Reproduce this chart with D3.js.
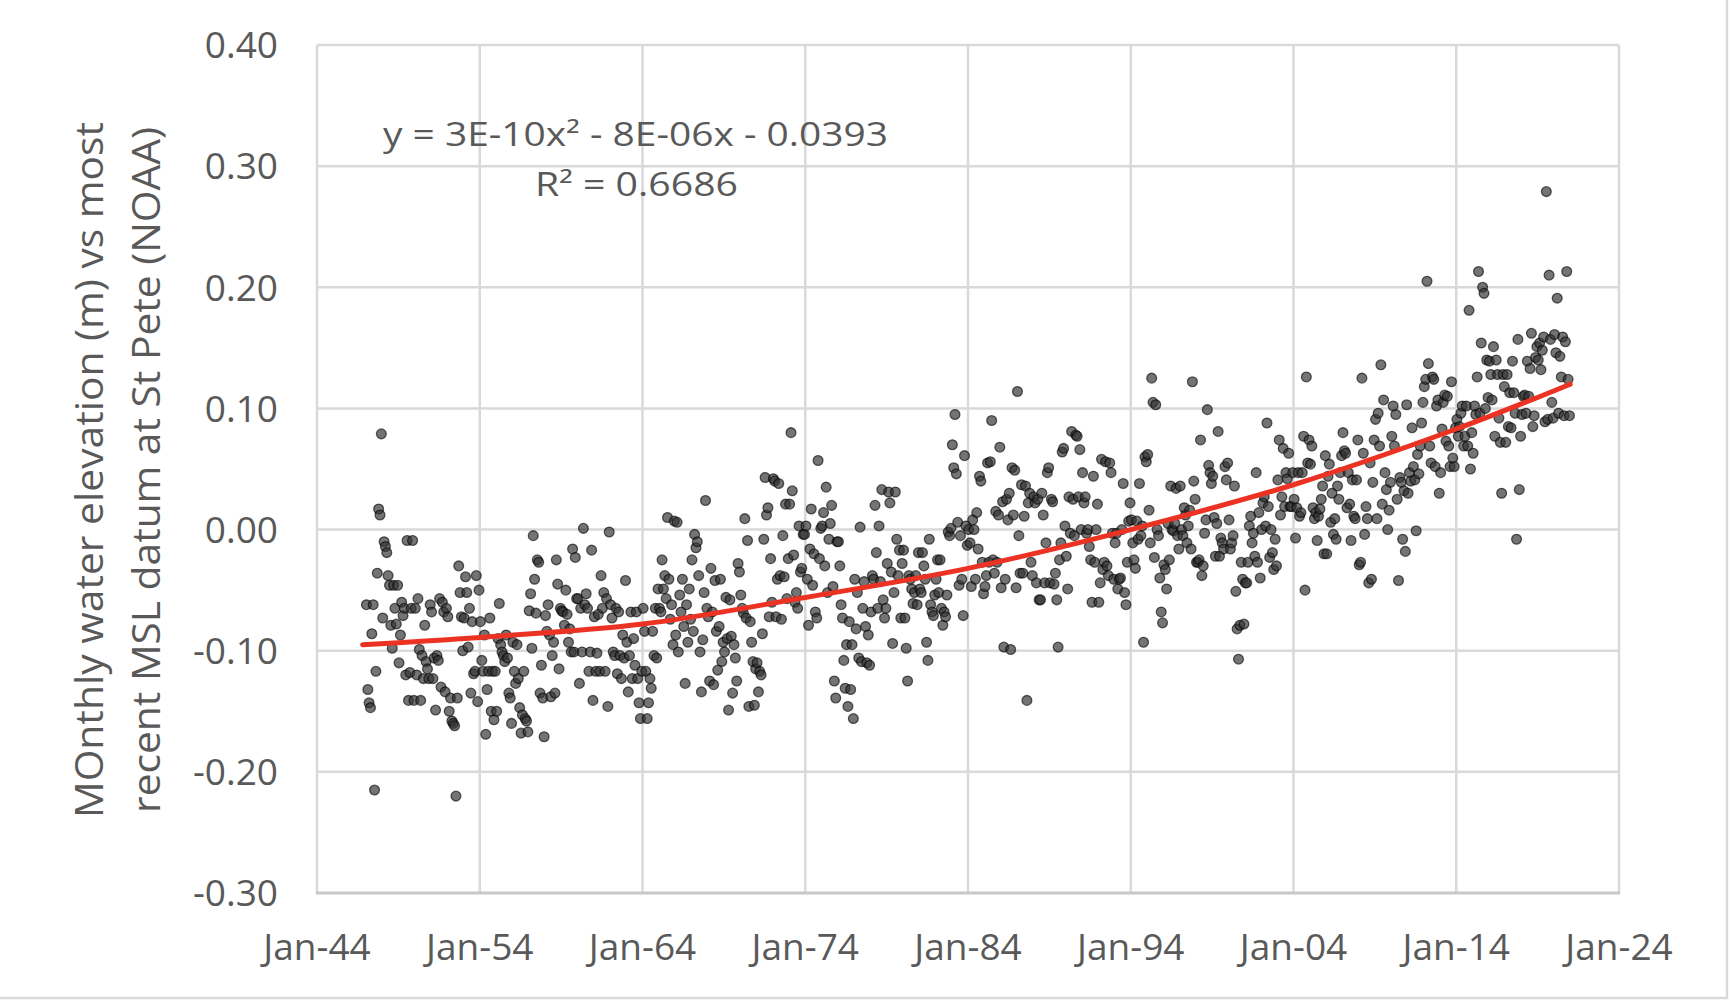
<!DOCTYPE html>
<html><head><meta charset="utf-8">
<script src="https://cdn.jsdelivr.net/npm/d3@7"></script>
<style>html,body{margin:0;padding:0;background:#fff;}svg{display:block;}</style>
</head><body>
<script>
// ---- tick labels ----
const tickYears = [1944,1954,1964,1974,1984,1994,2004,2014,2024];
const yTicks = [0.40,0.30,0.20,0.10,0.00,-0.10,-0.20,-0.30];
const yTitle = ["MOnthly water elevation (m) vs most","recent MSL datum at St Pete (NOAA)"];
const equationText = "y = 3E-10x\u00B2 - 8E-06x - 0.0393";
const r2Text = "R\u00B2 = 0.6686";

// ---- monthly observations (m), rows: [year, Jan..Dec] ----
const obs1940s = [
[1947,-0.062,-0.132,-0.143,-0.147,-0.086,-0.062,-0.215,-0.117,-0.036,0.017,0.012,0.079],
[1948,-0.073,-0.010,-0.014,-0.019,-0.038,-0.046,-0.079,-0.098,-0.046,-0.065,-0.078,-0.046],
[1949,-0.110,-0.087,-0.060,-0.071,-0.065,-0.120,-0.009,-0.141,-0.118,-0.065,-0.009,-0.141]];
const obs1950s = [
[1950,-0.065,-0.120,-0.057,-0.099,-0.141,-0.104,-0.123,-0.079,-0.109,-0.115,-0.123,-0.062],
[1951,-0.068,-0.123,-0.106,-0.149,-0.104,-0.108,-0.057,-0.130,-0.060,-0.068,-0.134,-0.065],
[1952,-0.072,-0.150,-0.139,-0.158,-0.160,-0.162,-0.220,-0.139,-0.030,-0.052,-0.072,-0.100],
[1953,-0.073,-0.039,-0.052,-0.097,-0.065,-0.135,-0.076,-0.119,-0.117,-0.038,-0.142,-0.050],
[1954,-0.076,-0.108,-0.117,-0.087,-0.169,-0.132,-0.117,-0.073,-0.150,-0.117,-0.157,-0.117],
[1955,-0.150,-0.090,-0.061,-0.095,-0.101,-0.104,-0.109,-0.087,-0.106,-0.135,-0.139,-0.160],
[1956,-0.093,-0.117,-0.127,-0.095,-0.123,-0.147,-0.168,-0.153,-0.117,-0.156,-0.158,-0.167],
[1957,-0.067,-0.053,-0.098,-0.005,-0.041,-0.069,-0.025,-0.027,-0.135,-0.112,-0.139,-0.171],
[1958,-0.071,-0.084,-0.062,-0.087,-0.138,-0.104,-0.093,-0.135,-0.025,-0.045,-0.115,-0.065],
[1959,-0.067,-0.068,-0.079,-0.050,-0.070,-0.093,-0.082,-0.101,-0.016,-0.101,-0.023,-0.057]];
const obs1960s = [
[1960,-0.057,-0.127,-0.065,-0.101,0.001,-0.062,-0.053,-0.065,-0.117,-0.101,-0.017,-0.141],
[1961,-0.072,-0.117,-0.102,-0.070,-0.117,-0.038,-0.065,-0.052,-0.117,-0.057,-0.146,-0.002],
[1962,-0.062,-0.073,-0.101,-0.104,-0.065,-0.119,-0.068,-0.104,-0.123,-0.087,-0.106,-0.042],
[1963,-0.093,-0.134,-0.104,-0.068,-0.123,-0.090,-0.112,-0.068,-0.123,-0.143,-0.156,-0.117],
[1964,-0.065,-0.084,-0.117,-0.156,-0.143,-0.123,-0.131,-0.084,-0.104,-0.065,-0.106,-0.049],
[1965,-0.065,-0.068,-0.025,-0.049,-0.038,-0.057,0.010,-0.041,-0.074,-0.062,-0.095,0.007],
[1966,-0.087,0.006,-0.101,-0.054,-0.068,-0.041,-0.080,-0.127,-0.062,-0.093,-0.049,-0.074],
[1967,-0.025,-0.084,-0.004,-0.015,-0.010,-0.038,-0.101,-0.134,-0.091,-0.052,0.024,-0.065],
[1968,-0.072,-0.125,-0.032,-0.068,-0.128,-0.042,-0.084,-0.116,-0.080,-0.041,-0.109,-0.093],
[1969,-0.101,-0.056,-0.090,-0.149,-0.058,-0.088,-0.135,-0.095,-0.106,-0.125,-0.028,-0.035]];
const obs1970s = [
[1970,-0.054,-0.065,-0.069,0.009,-0.073,-0.009,-0.146,-0.076,-0.093,-0.109,-0.145,-0.115],
[1971,-0.110,-0.134,-0.117,-0.120,-0.086,-0.008,0.043,0.012,0.018,-0.072,-0.024,-0.060],
[1972,0.042,0.040,-0.072,-0.041,0.038,-0.038,-0.074,-0.005,-0.039,0.021,-0.057,-0.024],
[1973,0.021,0.080,0.032,-0.021,-0.060,-0.052,-0.065,0.003,-0.035,-0.032,-0.004,-0.004],
[1974,0.003,-0.041,-0.079,-0.016,0.017,-0.046,-0.020,-0.068,-0.073,0.057,-0.024,0.001],
[1975,0.003,0.014,-0.030,0.035,-0.052,-0.008,0.005,0.020,-0.047,-0.125,-0.139,-0.010],
[1976,-0.010,-0.030,-0.062,-0.073,-0.108,-0.131,-0.095,-0.146,-0.076,-0.132,-0.095,-0.156],
[1977,-0.041,-0.082,-0.052,-0.106,0.002,-0.109,-0.065,-0.043,-0.080,-0.110,-0.087,-0.112],
[1978,-0.068,-0.038,-0.041,0.020,-0.019,-0.065,0.003,-0.043,0.033,-0.058,-0.073,-0.065],
[1979,-0.028,0.031,0.022,-0.035,-0.094,-0.052,0.031,-0.008,-0.038,-0.017,-0.073,-0.028]];
const obs1980s = [
[1980,-0.017,-0.073,-0.098,-0.125,-0.038,-0.041,-0.049,-0.061,-0.052,-0.038,-0.062,-0.019],
[1981,-0.049,-0.052,-0.019,-0.030,-0.041,-0.093,-0.108,-0.008,-0.062,-0.068,-0.071,-0.054],
[1982,-0.041,-0.025,-0.052,-0.025,-0.065,-0.079,-0.068,-0.072,-0.054,-0.002,-0.005,0.001],
[1983,0.070,0.051,0.095,0.046,0.006,-0.046,-0.005,-0.041,-0.071,0.061,0.003,-0.013],
[1984,0.000,-0.011,-0.047,0.008,0.000,-0.041,0.014,-0.016,0.044,0.040,-0.027,-0.053],
[1985,-0.047,-0.038,0.055,-0.027,0.056,0.090,-0.025,-0.036,0.015,-0.027,0.012,0.068],
[1986,-0.048,0.023,-0.097,-0.041,0.025,0.008,0.030,-0.099,0.051,0.012,0.049,-0.048],
[1987,0.114,-0.005,-0.036,0.037,-0.036,0.011,0.036,-0.141,0.022,0.030,-0.027,-0.038],
[1988,0.027,0.022,-0.044,0.025,-0.058,-0.058,0.030,0.012,-0.044,-0.011,0.047,0.051],
[1989,-0.044,0.025,0.023,-0.045,-0.036,-0.058,-0.097,-0.025,-0.011,0.064,0.067,0.003]];
const obs1990s = [
[1990,-0.022,-0.049,0.027,-0.003,0.081,0.025,-0.005,0.078,0.077,0.027,0.066,0.000],
[1991,0.047,0.022,0.027,-0.003,0.000,-0.014,-0.025,-0.060,0.044,-0.027,0.000,0.021],
[1992,-0.060,-0.044,0.058,-0.033,-0.027,0.056,-0.030,-0.038,0.055,0.047,-0.003,-0.041],
[1993,-0.011,-0.003,-0.049,-0.041,-0.040,0.000,0.038,-0.052,-0.062,-0.027,0.007,0.022],
[1994,0.008,-0.011,-0.025,-0.032,0.007,-0.008,0.038,-0.005,0.003,-0.093,0.060,0.056],
[1995,0.062,0.016,-0.011,0.125,0.105,-0.023,0.103,0.000,-0.005,-0.040,-0.068,-0.077],
[1996,-0.029,-0.033,-0.049,0.005,-0.025,0.036,0.000,-0.001,0.005,0.034,-0.005,-0.016],
[1997,0.036,0.000,-0.005,0.018,0.012,-0.011,0.003,0.016,-0.016,0.122,0.040,0.025],
[1998,-0.027,-0.027,-0.025,0.074,-0.038,-0.030,-0.003,0.008,0.099,0.053,0.047,0.038],
[1999,0.044,0.010,-0.022,0.005,0.081,-0.022,-0.007,-0.011,-0.016,0.052,0.041,0.055]];
const obs2000s = [
[2000,0.008,-0.016,-0.011,-0.005,0.036,-0.051,-0.082,-0.107,-0.079,-0.027,-0.041,-0.078],
[2001,-0.044,-0.044,-0.027,0.003,0.011,-0.011,-0.003,-0.022,0.047,-0.027,0.014,-0.040],
[2002,0.000,0.022,0.027,0.003,0.088,0.019,-0.023,0.000,-0.019,-0.033,-0.008,-0.030],
[2003,0.041,0.074,0.012,0.027,0.067,0.019,0.047,0.042,0.063,0.019,0.019,0.047],
[2004,0.025,-0.007,0.018,0.047,0.011,0.014,0.047,0.077,-0.050,0.126,0.055,0.074],
[2005,0.054,0.069,0.018,0.009,0.014,-0.009,0.011,0.017,0.025,0.036,-0.020,0.061],
[2006,-0.020,0.044,0.054,0.006,0.030,-0.004,0.009,-0.008,0.036,0.025,0.047,0.061],
[2007,0.080,0.065,0.063,0.018,0.047,0.021,-0.009,0.041,0.011,0.009,0.041,0.074],
[2008,-0.029,-0.027,0.125,0.063,-0.004,0.019,0.009,-0.044,0.055,-0.041,0.039,0.074],
[2009,0.091,0.009,0.096,0.069,0.136,0.021,0.107,0.047,0.033,0.000,0.016,0.039]];
const obs2010s = [
[2010,0.077,0.102,0.069,0.095,0.025,-0.042,0.043,0.039,-0.008,0.032,-0.018,0.103],
[2011,0.030,0.047,0.040,0.084,0.052,0.041,-0.001,0.062,0.046,0.069,0.088,0.105],
[2012,0.118,0.124,0.205,0.137,0.069,0.055,0.126,0.124,0.052,0.102,0.107,0.030],
[2013,0.047,0.083,0.105,0.111,0.073,0.110,0.069,0.052,0.122,0.059,0.052,0.084],
[2014,0.091,0.077,0.085,0.096,0.102,0.069,0.077,0.102,0.069,0.181,0.050,0.080],
[2015,0.063,0.102,0.095,0.126,0.213,0.096,0.154,0.200,0.195,0.100,0.140,0.109],
[2016,0.139,0.128,0.107,0.151,0.077,0.140,0.128,0.092,0.072,0.030,0.128,0.118],
[2017,0.072,0.128,0.085,0.113,0.084,0.139,0.113,0.096,-0.008,0.157,0.033,0.077],
[2018,0.095,0.110,0.111,0.096,0.139,0.110,0.133,0.162,0.085,0.094,0.142,0.151],
[2019,0.140,0.154,0.132,0.148,0.159,0.089,0.279,0.091,0.210,0.157,0.105,0.092]];
const obs2020s = [
[2020,0.161,0.146,0.191,0.096,0.143,0.126,0.159,0.094,0.155,0.213,0.124,0.094]];

// ---- polynomial trendline ----
const trendYears  = [1946.8, 1954, 1964, 1974, 1984, 1994, 2004, 2014, 2021.0];
const trendValues = [-0.095, -0.089, -0.078, -0.056, -0.032, 0.000, 0.037, 0.083, 0.120];

// ---- build ----
const W = 1732, H = 1002;
const FONT = "'Open Sans', 'Noto Sans', sans-serif";
const GREY = "#595959";
const svg = d3.select("body").append("svg").attr("width", W).attr("height", H)
  .style("background", "#fff");

const x = d3.scaleTime().domain([new Date(1944,0,1), new Date(2024,0,1)]).range([317, 1619]);
const y = d3.scaleLinear().domain([-0.3, 0.4]).range([893, 45]);

const points = [];
[obs1940s,obs1950s,obs1960s,obs1970s,obs1980s,obs1990s,obs2000s,obs2010s,obs2020s].forEach(dec =>
  dec.forEach(row => row.slice(1).forEach((v, m) => points.push({date: new Date(row[0], m, 15), v}))));

function fracDate(f){ const yr = Math.floor(f); return new Date(new Date(yr,0,1).getTime() + (f-yr)*365.25*86400000); }
const trend = trendYears.map((t,i) => ({date: fracDate(t), v: trendValues[i]}));

// gridlines
const grid = svg.append("g");
grid.selectAll("line.h").data(yTicks.filter(t => t > -0.3)).join("line")
  .attr("x1", x.range()[0]).attr("x2", x.range()[1])
  .attr("y1", d => y(d)).attr("y2", d => y(d))
  .attr("stroke", "#d9d9d9").attr("stroke-width", 2.5);
grid.selectAll("line.v").data(tickYears).join("line")
  .attr("x1", d => x(new Date(d,0,1))).attr("x2", d => x(new Date(d,0,1)))
  .attr("y1", y(0.4)).attr("y2", y(-0.3))
  .attr("stroke", "#d9d9d9").attr("stroke-width", 2.5);
grid.append("line").attr("x1", x.range()[0]-1).attr("x2", x.range()[1]+1)
  .attr("y1", y(-0.3)).attr("y2", y(-0.3)).attr("stroke", "#c8c8c8").attr("stroke-width", 3);

// y tick labels
svg.append("g").selectAll("text").data(yTicks).join("text")
  .attr("x", 278).attr("y", d => y(d)).attr("dy", "0.36em")
  .attr("text-anchor", "end").attr("font-family", FONT).attr("font-size", 37)
  .attr("fill", GREY).text(d => d.toFixed(2));

// x tick labels
const fmt = d3.timeFormat("%b-%y");
svg.append("g").selectAll("text").data(tickYears).join("text")
  .attr("x", d => x(new Date(d,0,1))).attr("y", 960)
  .attr("text-anchor", "middle").attr("font-family", FONT).attr("font-size", 37)
  .attr("fill", GREY).text(d => fmt(new Date(d,0,1)));

// y title
const titleX = [103, 160];
svg.append("g").selectAll("text").data(yTitle).join("text")
  .attr("transform", (d,i) => `translate(${titleX[i]},470) rotate(-90)`)
  .attr("text-anchor", "middle").attr("font-family", FONT).attr("font-size", 38)
  .attr("fill", GREY)
  .attr("textLength", (d,i) => i === 0 ? 696 : 686).attr("lengthAdjust", "spacingAndGlyphs")
  .text(d => d);

// points
svg.append("g").selectAll("circle").data(points).join("circle")
  .attr("cx", d => x(d.date)).attr("cy", d => y(d.v)).attr("r", 4.9)
  .attr("fill", "rgba(50,50,50,0.68)").attr("stroke", "rgba(0,0,0,0.6)").attr("stroke-width", 1.3);

// trendline
svg.append("path").datum(trend)
  .attr("d", d3.line().x(d => x(d.date)).y(d => y(d.v)).curve(d3.curveCatmullRom))
  .attr("fill", "none").attr("stroke", "#ec3323").attr("stroke-width", 5).attr("stroke-linecap", "round");

// equation
svg.append("text").attr("x", 383).attr("y", 146).attr("font-family", FONT).attr("font-size", 32)
  .attr("fill", GREY).attr("textLength", 505).attr("lengthAdjust", "spacingAndGlyphs").text(equationText);
svg.append("text").attr("x", 535).attr("y", 196).attr("font-family", FONT).attr("font-size", 32)
  .attr("fill", GREY).attr("textLength", 203).attr("lengthAdjust", "spacingAndGlyphs").text(r2Text);

// outer frame (right & bottom edges of the screenshot)
svg.append("line").attr("x1", 1727).attr("x2", 1727).attr("y1", 0).attr("y2", 998)
  .attr("stroke", "#d9d9d9").attr("stroke-width", 2.5);
svg.append("line").attr("x1", 0).attr("x2", 1728).attr("y1", 998).attr("y2", 998)
  .attr("stroke", "#d9d9d9").attr("stroke-width", 2.5);
</script>
</body></html>
